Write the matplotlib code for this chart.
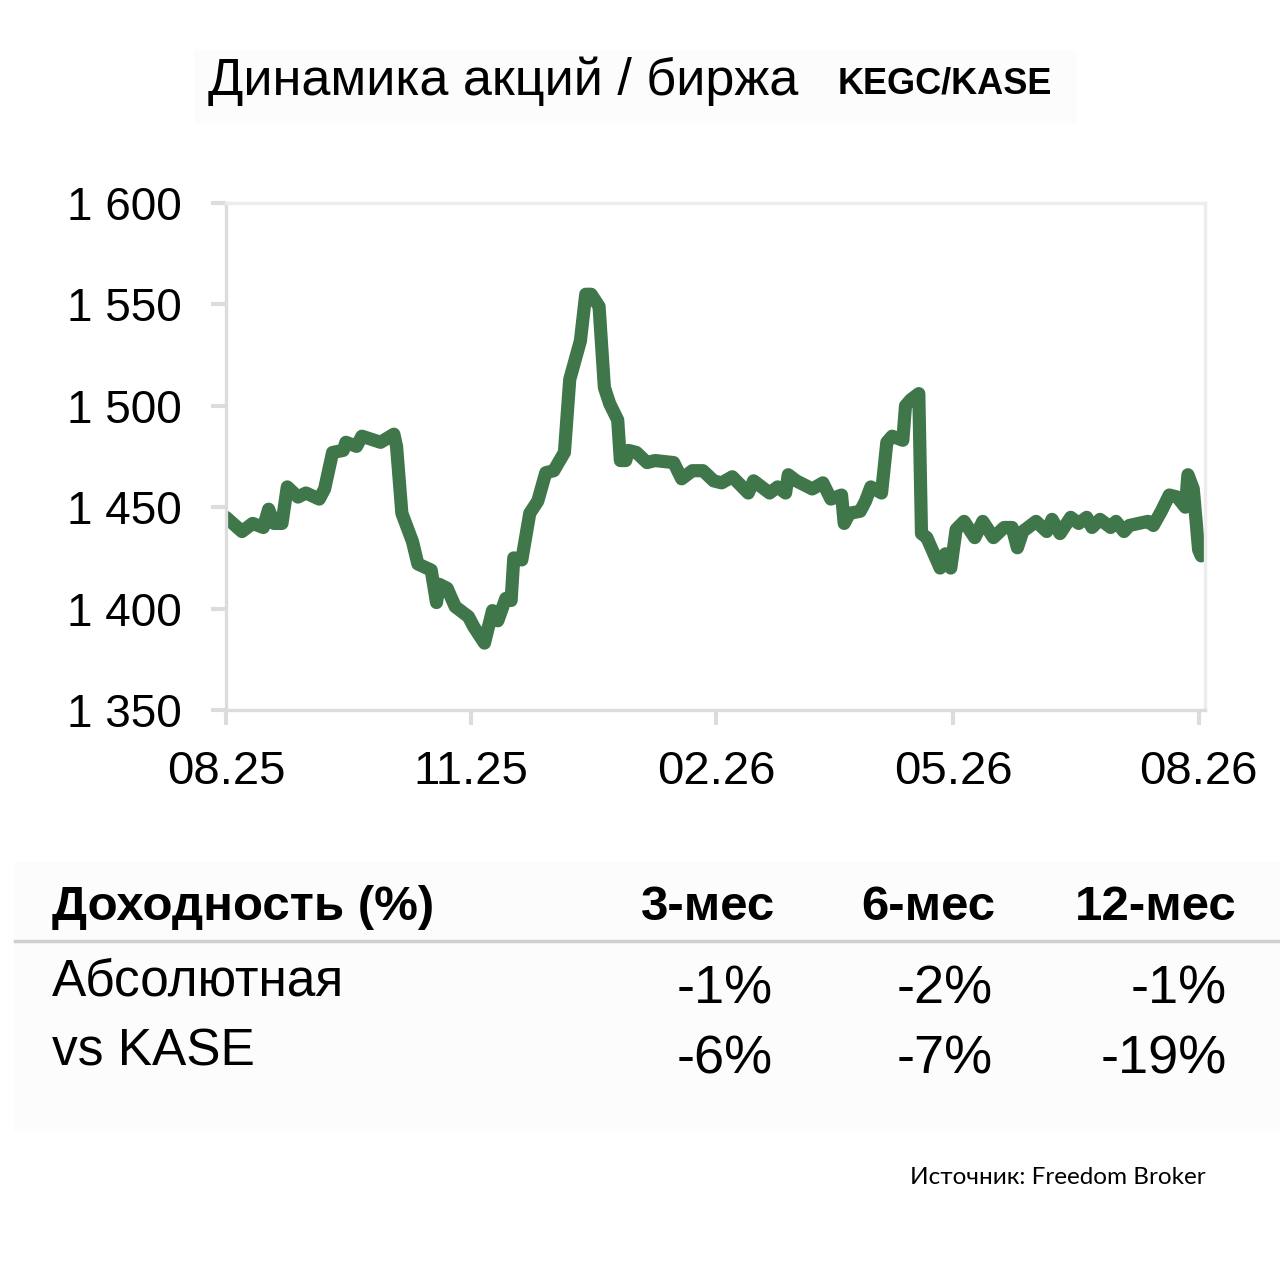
import datetime as dt
import matplotlib
matplotlib.use("Agg")
import matplotlib.pyplot as plt
import matplotlib.dates as mdates
from matplotlib.patches import Rectangle

plt.rcParams['font.family'] = ['Liberation Sans', 'DejaVu Sans']

# price series (days since 2025-08-01)
start = dt.date(2025, 8, 1)
days = [0, 6, 10, 14, 16, 18, 21, 23, 27, 30, 35, 37, 40, 44, 45, 49, 51, 58, 63, 64,
        66, 70, 72, 77, 79, 80, 83, 86, 91, 93, 97, 100, 102, 105, 107, 108, 111, 114, 117, 120,
        123, 127, 129, 133, 135, 137, 140, 142, 144, 147, 148, 150, 151, 154, 158, 161, 168, 171, 175, 179,
        183, 186, 190, 196, 198, 204, 207, 210, 211, 214, 220, 224, 227, 231, 232, 234, 238, 240, 242, 246,
        248, 250, 254, 255, 257, 260, 261, 263, 268, 270, 272, 274, 277, 281, 284, 288, 292, 295, 297, 299,
        304, 308, 310, 313, 317, 320, 323, 325, 328, 332, 334, 337, 339, 346, 348, 351, 354, 357, 360, 361,
        363, 365, 366, 367]
prices = [1445, 1438, 1442, 1440, 1449, 1442, 1442, 1460, 1455, 1457, 1454, 1459, 1477, 1478, 1482, 1480, 1485, 1482, 1486, 1480,
          1447, 1433, 1422, 1419, 1403, 1412, 1410, 1401, 1396, 1391, 1383, 1399, 1394, 1405, 1404, 1425, 1424, 1447, 1453, 1467,
          1468, 1477, 1513, 1532, 1555, 1555, 1549, 1509, 1501, 1493, 1473, 1473, 1478, 1477, 1472, 1473, 1472, 1464, 1468, 1468,
          1463, 1462, 1465, 1457, 1463, 1457, 1460, 1457, 1466, 1463, 1459, 1462, 1454, 1456, 1442, 1447, 1448, 1453, 1460, 1457,
          1482, 1485, 1483, 1500, 1503, 1506, 1437, 1435, 1420, 1427, 1420, 1439, 1443, 1435, 1443, 1435, 1440, 1440, 1430, 1438,
          1443, 1438, 1444, 1437, 1445, 1442, 1445, 1440, 1444, 1440, 1443, 1438, 1441, 1443, 1441, 1448, 1456, 1455, 1450, 1466,
          1459, 1429, 1426, 1430]

tick_dates = [dt.date(2025, 8, 1), dt.date(2025, 11, 1), dt.date(2026, 2, 1),
              dt.date(2026, 5, 1), dt.date(2026, 8, 1)]
y_ticks = [1350, 1400, 1450, 1500, 1550, 1600]

periods = ['3-мес', '6-мес', '12-мес']
absolute = ['-1%', '-2%', '-1%']
vs_kase = ['-6%', '-7%', '-19%']

W, H = 1280, 1278
fig = plt.figure(figsize=(W / 100, H / 100), dpi=100)
fig.patch.set_facecolor('white')


def fx(px):
    return px / W


def fy(py):
    return 1 - py / H


# very faint background panels
fig.patches.append(Rectangle((fx(195), fy(122)), fx(880), 72 / H, transform=fig.transFigure,
                             color='#fcfcfc', zorder=0))
fig.patches.append(Rectangle((fx(14), fy(1130)), fx(1266), 268 / H, transform=fig.transFigure,
                             color='#fcfcfc', zorder=0))

# title
fig.text(fx(208), fy(95), 'Динамика акций / биржа', fontsize=37.5, ha='left', va='baseline')
fig.text(fx(838), fy(93), 'KEGC/KASE', fontsize=26, fontweight='bold', ha='left', va='baseline')

# chart
ax = fig.add_axes([fx(226), fy(710), fx(1205 - 226), (710 - 203) / H])
x = [mdates.date2num(start + dt.timedelta(days=d)) for d in days]
ax.plot(x, prices, color='#3f774a', lw=9.5, solid_joinstyle='round', solid_capstyle='round')

x0 = mdates.date2num(start)
ax.set_xlim(x0, x0 + 367.4)
ax.set_ylim(1350, 1600)
ax.set_xticks([mdates.date2num(d) for d in tick_dates])
ax.xaxis.set_major_formatter(mdates.DateFormatter('%m.%y'))
ax.set_yticks(y_ticks)
ax.set_yticklabels(['{} {:03d}'.format(v // 1000, v % 1000) for v in y_ticks])
ax.tick_params(axis='y', length=11, width=3, color='#dcdcdc', pad=21, labelsize=33)
ax.tick_params(axis='x', length=11, width=3, color='#dcdcdc', pad=18, labelsize=34)
for side, sp in ax.spines.items():
    sp.set_color('#dcdcdc' if side in ('left', 'bottom') else '#ececec')
    sp.set_linewidth(2.4)
ax.set_facecolor('none')

# returns table
fig.text(fx(52), fy(920), 'Доходность (%)', fontsize=35.5, fontweight='bold', va='baseline')
for px, p in zip([775, 995, 1237], periods):
    fig.text(fx(px), fy(920), p, fontsize=35.5, fontweight='bold', ha='right', va='baseline')
fig.add_artist(plt.Line2D([fx(15), fx(1280)], [fy(941), fy(941)], color='#cfcfcf', lw=2.5))

fig.text(fx(52), fy(995), 'Абсолютная', fontsize=37, va='baseline')
fig.text(fx(52), fy(1065), 'vs KASE', fontsize=37, va='baseline')
for px, a, k in zip([773, 993, 1227], absolute, vs_kase):
    fig.text(fx(px), fy(1003), a, fontsize=39, ha='right', va='baseline')
    fig.text(fx(px), fy(1073), k, fontsize=39, ha='right', va='baseline')

fig.text(fx(1206), fy(1184), 'Источник: Freedom Broker', fontsize=17.5, ha='right', va='baseline',
         family=['Lato', 'DejaVu Sans'])

fig.savefig('out.png', dpi=100, facecolor='white')
